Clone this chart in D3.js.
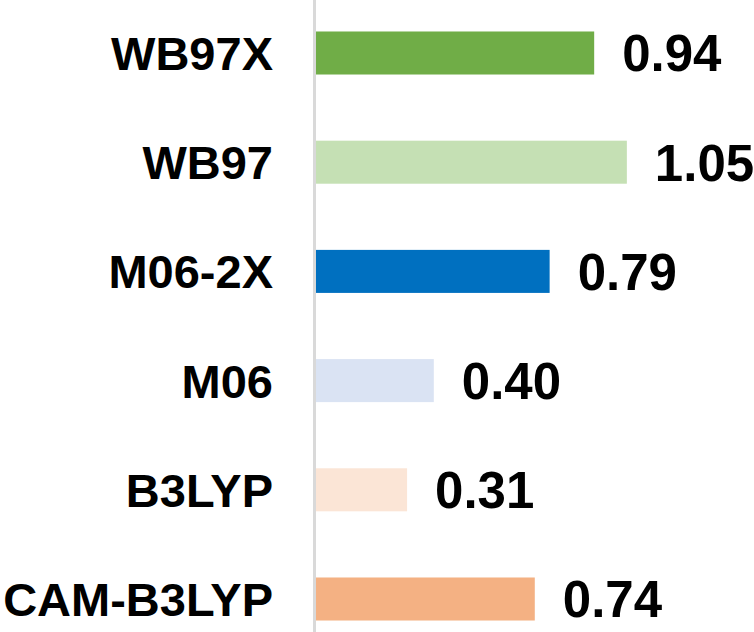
<!DOCTYPE html>
<html>
<head>
<meta charset="utf-8">
<script src="https://cdn.jsdelivr.net/npm/d3@7"></script>
<style>
  body { margin: 0; background: #fff; }
  text { font-family: "Liberation Sans", Arial, sans-serif; font-weight: bold; fill: #000; }
</style>
</head>
<body>
<div id="viz"></div>
<script>
const width = 754;
const height = 632;

const methods = ["WB97X", "WB97", "M06-2X", "M06", "B3LYP", "CAM-B3LYP"];
const values = [0.94, 1.05, 0.79, 0.40, 0.31, 0.74];
const colors = ["#70ad47", "#c5e0b4", "#0070c0", "#dae3f3", "#fbe5d6", "#f4b183"];

const data = methods.map((m, i) => ({ name: m, value: values[i], color: colors[i] }));

const svg = d3.select("#viz")
  .append("svg")
  .attr("width", width)
  .attr("height", height);

// zero sits on the grey axis line
const x = d3.scaleLinear()
  .domain([0, 1])
  .range([315, 612]);

const y = d3.scaleBand()
  .domain(methods)
  .range([-1.6, 653.6])
  .paddingInner(0.606)
  .paddingOuter(0.303);

svg.append("g")
  .selectAll("rect")
  .data(data)
  .join("rect")
    .attr("x", x(0) + 1)
    .attr("y", d => y(d.name))
    .attr("width", d => x(d.value) - x(0) - 1)
    .attr("height", y.bandwidth())
    .attr("fill", d => d.color);

// vertical axis line
svg.append("line")
  .attr("x1", x(0) - 0.5)
  .attr("x2", x(0) - 0.5)
  .attr("y1", 0)
  .attr("y2", height)
  .attr("stroke", "#d9d9d9")
  .attr("stroke-width", 3);

// category labels
svg.append("g")
  .selectAll("text")
  .data(data)
  .join("text")
    .attr("x", 273)
    .attr("y", d => y(d.name) + y.bandwidth() / 2)
    .attr("dy", "0.36em")
    .attr("text-anchor", "end")
    .style("font-size", "47px")
    .text(d => d.name);

// value labels
svg.append("g")
  .selectAll("text")
  .data(data)
  .join("text")
    .attr("x", d => x(d.value) + 28)
    .attr("y", d => y(d.name) + y.bandwidth() / 2)
    .attr("dy", "0.36em")
    .style("font-size", "51px")
    .text(d => d.value.toFixed(2));
</script>
</body>
</html>
